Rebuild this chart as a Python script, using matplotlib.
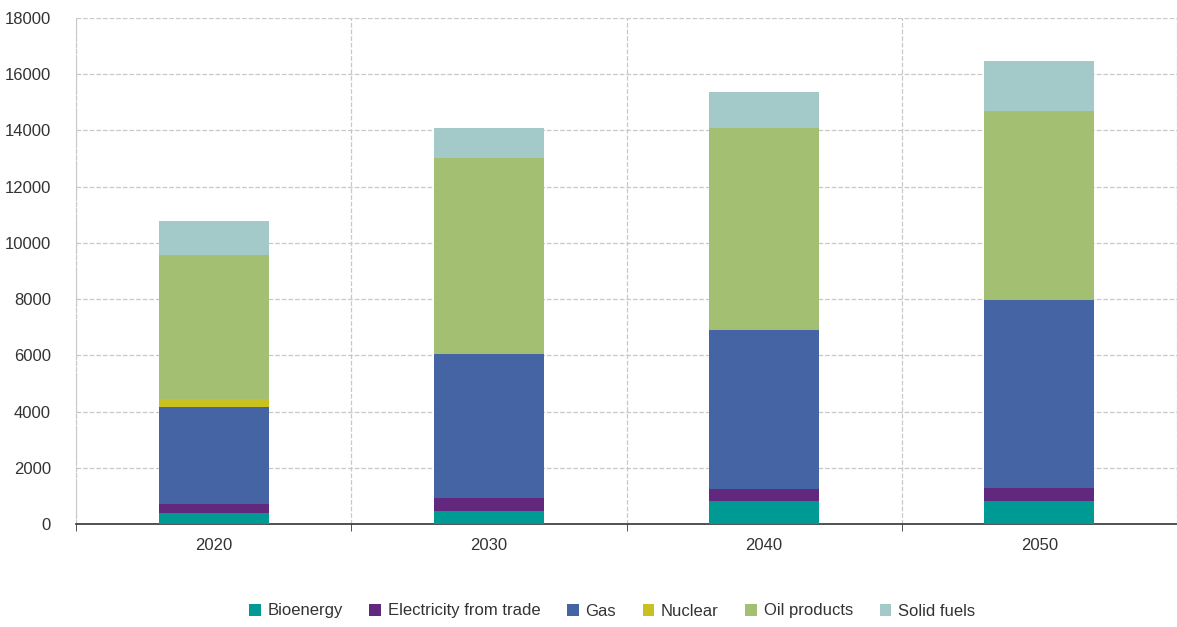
import numpy as np
import matplotlib.pyplot as plt

years = ['2020', '2030', '2040', '2050']
bioenergy = [390, 450, 810, 810]
electricity_trade = [320, 460, 430, 480]
gas = [3465, 5140, 5660, 6680]
nuclear = [285, 0, 0, 0]
oil_products = [5110, 6975, 7190, 6730]
solid_fuels = [1220, 1065, 1280, 1780]

series = [
    ('Bioenergy', bioenergy, '#009A94'),
    ('Electricity from trade', electricity_trade, '#61287E'),
    ('Gas', gas, '#4464A3'),
    ('Nuclear', nuclear, '#C9C11F'),
    ('Oil products', oil_products, '#A3BF72'),
    ('Solid fuels', solid_fuels, '#A3C9C9'),
]

plt.rcParams['font.family'] = ['Liberation Sans', 'DejaVu Sans']

fig = plt.figure(figsize=(11.77, 6.27), dpi=100)
ax = fig.add_axes([76 / 1177, 103 / 627, 1 - 76 / 1177, (524 - 18) / 627])

x = np.arange(len(years))
bottom = np.zeros(len(years))
for name, vals, color in series:
    ax.bar(x, vals, width=0.4, bottom=bottom, color=color, label=name, zorder=3)
    bottom += np.array(vals)

ax.set_ylim(0, 18000)
ax.set_xlim(-0.5, 3.439)
ax.set_yticks(range(0, 18001, 2000))
ax.set_xticks(x)
ax.set_xticklabels(years)
ax.set_xticks(np.arange(-0.5, 3.6, 1), minor=True)
ax.tick_params(axis='x', which='major', length=0, labelsize=12, pad=10, colors='#333333')
ax.tick_params(axis='x', which='minor', length=5, direction='out', color='#333333')
ax.tick_params(axis='y', length=0, labelsize=12, pad=18, colors='#333333')

ax.grid(axis='y', linestyle='--', color='#c8c8c8', linewidth=0.9, zorder=0)
ax.grid(axis='x', which='minor', linestyle='--', color='#c8c8c8', linewidth=0.9, zorder=0)

for s in ['top', 'right']:
    ax.spines[s].set_visible(False)
ax.spines['left'].set_linestyle('--')
ax.spines['left'].set_color('#c8c8c8')
ax.spines['bottom'].set_color('#333333')
ax.spines['bottom'].set_linewidth(1.2)

fig.legend(loc='center', bbox_to_anchor=(612 / 1177, 1 - 611 / 627), ncol=6,
           frameon=False, fontsize=12, handlelength=0.7, handleheight=0.7,
           handletextpad=0.4, columnspacing=1.6, labelcolor='#333333')

fig.savefig('out.png', dpi=100)
